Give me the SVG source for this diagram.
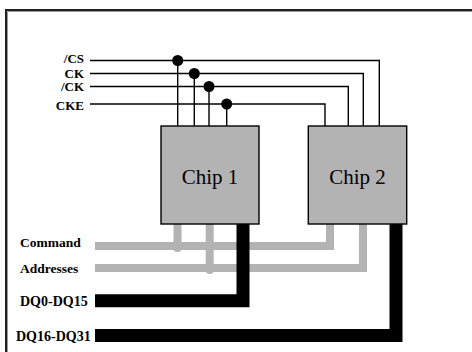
<svg xmlns="http://www.w3.org/2000/svg" width="472" height="352" viewBox="0 0 472 352">
<style>
.lbl{font-weight:bold;fill:#000}
.chip{fill:#b3b3b3;stroke:#000;stroke-width:1.4}
.ctext{font-size:21px;fill:#000;text-anchor:middle}
.sig{fill:none;stroke:#000;stroke-width:1.4}
.bus{fill:none;stroke:#b3b3b3;stroke-width:8}
.dq{fill:none;stroke:#000;stroke-width:13}
</style>
<rect width="472" height="352" fill="#fff"/>
<g id="frame">
<path d="M6,352 V10 H472" fill="none" stroke="#222" stroke-width="2"/>
<path d="M7.5,352 V11.5 H472" fill="none" stroke="#999" stroke-width="1"/>
</g>
<g id="labels" class="lbl" font-family="'Liberation Serif', 'Times New Roman', 'DejaVu Serif', serif">
<text x="84" y="63" font-size="13" text-anchor="end">/CS</text>
<text x="84" y="77.5" font-size="13" text-anchor="end">CK</text>
<text x="84" y="91" font-size="13" text-anchor="end">/CK</text>
<text x="84" y="110" font-size="13" text-anchor="end">CKE</text>
<text x="20" y="247" font-size="13.5">Command</text>
<text x="20" y="273" font-size="13.5">Addresses</text>
<text x="20" y="306" font-size="14">DQ0-DQ15</text>
<text x="16" y="341" font-size="14">DQ16-DQ31</text>
</g>
<g id="connectors">
<path class="sig" d="M90,60.5 H379.3 V126"/>
<path class="sig" d="M90,73.5 H363.3 V126"/>
<path class="sig" d="M90,86.5 H348.3 V126"/>
<path class="sig" d="M90,104 H325 V126"/>
<path class="sig" d="M177.7,60.5 V126 M194.3,73.5 V126 M209,86.5 V126 M226.7,104 V126"/>
<circle cx="177.7" cy="60.5" r="5.5"/>
<circle cx="194.3" cy="73.5" r="5.5"/>
<circle cx="209" cy="86.5" r="5.5"/>
<circle cx="226.7" cy="104" r="5.5"/>
<path class="bus" d="M95,246 H330 V224"/>
<path class="bus" d="M95,268 H363 V224"/>
<path class="bus" d="M177.5,224 V248" stroke-linecap="round"/>
<path class="bus" d="M209.7,224 V270" stroke-linecap="round"/>
<path class="dq" d="M95,300.7 H243 V224"/>
<path class="dq" d="M95,335.5 H396 V224"/>
</g>
<g id="chip1">
<rect class="chip" x="161" y="126" width="98" height="98"/>
<text class="ctext" x="210" y="183.5" font-family="'Liberation Serif', 'Times New Roman', 'DejaVu Serif', serif">Chip 1</text>
</g>
<g id="chip2">
<rect class="chip" x="308.3" y="126" width="98.4" height="98"/>
<text class="ctext" x="357.5" y="183.5" font-family="'Liberation Serif', 'Times New Roman', 'DejaVu Serif', serif">Chip 2</text>
</g>
</svg>
